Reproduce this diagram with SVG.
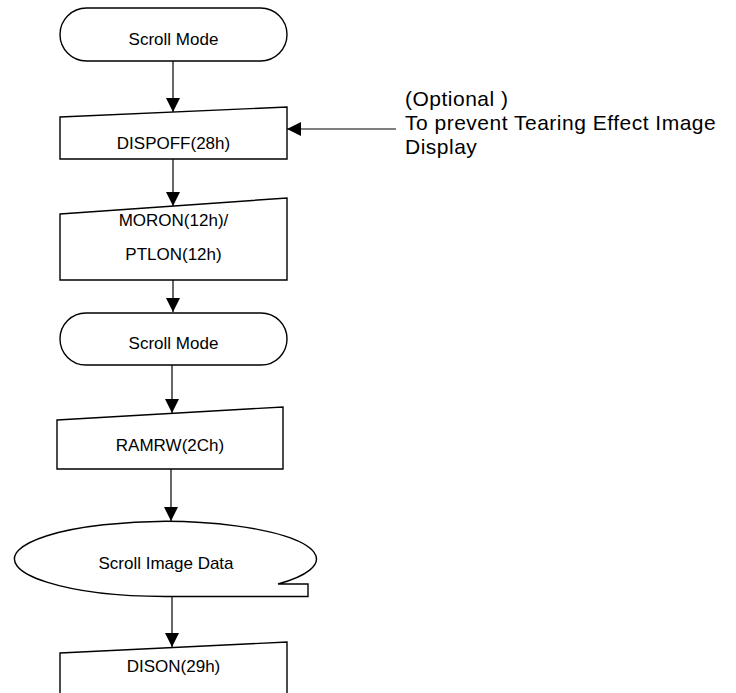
<svg xmlns="http://www.w3.org/2000/svg" width="736" height="693" viewBox="0 0 736 693">
<defs>
<marker id="ah" markerUnits="userSpaceOnUse" markerWidth="14" markerHeight="14" viewBox="0 0 14 14" refX="14" refY="7" orient="auto">
<path d="M0,0 L14,7 L0,14 Z" fill="#000"/>
</marker>
<style>
.s{fill:#fff;stroke:#000;stroke-width:1.4}
.c{fill:none;stroke:#000;stroke-width:1.2;marker-end:url(#ah)}
.t{font-family:"Liberation Sans",Arial,sans-serif;font-size:17px;fill:#000;text-anchor:middle}
.n{font-family:"Liberation Sans",Arial,sans-serif;font-size:21px;letter-spacing:0.5px;fill:#000}
</style>
</defs>
<rect width="736" height="693" fill="#fff"/>
<g id="connectors">
<line class="c" x1="173" y1="61" x2="173" y2="112"/>
<line class="c" x1="173" y1="159" x2="173" y2="206"/>
<line class="c" x1="173" y1="280" x2="173" y2="312"/>
<line class="c" x1="172" y1="365" x2="172" y2="413"/>
<line class="c" x1="171" y1="469" x2="171" y2="521"/>
<line class="c" x1="172" y1="597" x2="172" y2="647"/>
<line class="c" x1="396" y1="129" x2="287" y2="129"/>
</g>
<g id="start">
<rect class="s" x="60" y="8" width="227" height="53" rx="26.5"/>
<text class="t" x="173.5" y="45">Scroll Mode</text>
</g>
<g id="dispoff">
<path class="s" d="M60,117 L287,107 L287,159 L60,159 Z"/>
<text class="t" x="173.5" y="149">DISPOFF(28h)</text>
</g>
<g id="note">
<text class="n" x="405" y="106">(Optional )</text>
<text class="n" x="405" y="130">To prevent Tearing Effect Image</text>
<text class="n" x="405" y="154">Display</text>
</g>
<g id="moron">
<path class="s" d="M60,214 L287,198 L287,280 L60,280 Z"/>
<text class="t" x="173.5" y="226">MORON(12h)/</text>
<text class="t" x="173.5" y="260">PTLON(12h)</text>
</g>
<g id="scroll2">
<rect class="s" x="60" y="313" width="227" height="52" rx="26"/>
<text class="t" x="173.5" y="349">Scroll Mode</text>
</g>
<g id="ramrw">
<path class="s" d="M57,420 L283,407 L283,469 L57,469 Z"/>
<text class="t" x="170" y="451">RAMRW(2Ch)</text>
</g>
<g id="scrolldata">
<path class="s" d="M278,584 A151 37.5 0 1 0 166,596.5 L308,596.5 L308,584 Z"/>
<text class="t" x="166" y="569">Scroll Image Data</text>
</g>
<g id="dison">
<path class="s" d="M60,653 L287,642 L287,700 L60,700 Z"/>
<text class="t" x="173.5" y="672">DISON(29h)</text>
</g>
</svg>
